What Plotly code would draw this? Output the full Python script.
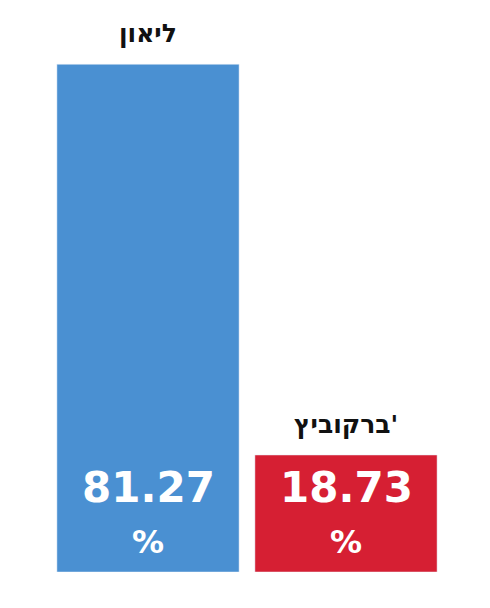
import plotly.graph_objects as go

names = ["ליאון", "ברקוביץ'"]
values = [81.27, 18.73]
colors = ["#4a90d2", "#d61f33"]
labels = ["81.27", "18.73"]

fig = go.Figure(go.Bar(x=names, y=values, marker_color=colors, width=0.92,
                       hoverinfo="skip"))

for n, v, lab in zip(names, values, labels):
    fig.add_annotation(x=n, y=v, text="<b>" + n + "</b>", showarrow=False,
                       yanchor="bottom", yshift=14,
                       font=dict(family="DejaVu Sans", size=25, color="#111"))
    fig.add_annotation(x=n, y=0, text="<b>" + lab + "</b>", showarrow=False,
                       yanchor="middle", yshift=85,
                       font=dict(family="DejaVu Sans", size=42, color="white"))
    fig.add_annotation(x=n, y=0, text="<b>%</b>", showarrow=False,
                       yanchor="middle", yshift=30,
                       font=dict(family="DejaVu Sans", size=32, color="white"))

fig.update_layout(width=490, height=608, margin=dict(l=41, r=53, t=33, b=44),
                  plot_bgcolor="white", paper_bgcolor="white", showlegend=False)
fig.update_xaxes(visible=False)
fig.update_yaxes(visible=False, range=[0, 85])
fig.write_html("out.html")
